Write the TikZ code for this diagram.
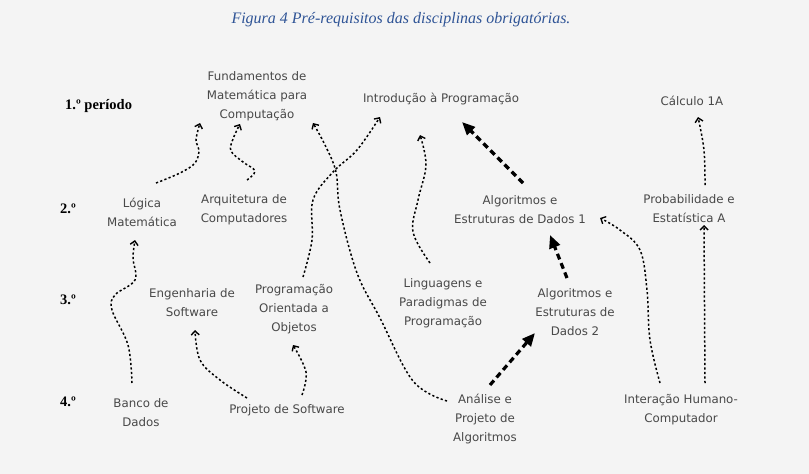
\documentclass[tikz,border=0pt]{standalone}
\usepackage{fontspec}
\setmainfont{DejaVu Sans}
\newfontfamily\serifface{Liberation Serif}
\usetikzlibrary{arrows.meta}
\definecolor{bg}{HTML}{F4F4F4}
\definecolor{txt}{HTML}{484848}
\definecolor{ttl}{HTML}{2F5496}
\begin{document}
\begin{tikzpicture}[x=1pt,y=-1pt,
  course/.style={align=center, text=txt, font=\fontsize{11.8}{19}\selectfont, inner sep=0pt},
  period/.style={anchor=west, font=\serifface\bfseries\fontsize{14.5}{16}\selectfont, inner sep=0pt},
  dep/.style={line width=1.5pt, dash pattern=on 2.2pt off 2.3pt, -{Straight Barb[length=4pt,width=8pt,line width=1.4pt]}},
  strong/.style={line width=3.2pt, dash pattern=on 6pt off 4pt, -{Triangle[length=13pt,width=11pt]}}
]
\fill[bg] (0,0) rectangle (809,474);
\useasboundingbox (0,0) rectangle (809,474);

\node[font=\serifface\itshape\fontsize{16}{18}\selectfont, text=ttl, inner sep=0pt] (title) at (401,20) {Figura 4 Pré-requisitos das disciplinas obrigatórias.};

\node[period] (p1) at (65,106) {1.º período};
\node[period] (p2) at (60,209) {2.º};
\node[period] (p3) at (60,300) {3.º};
\node[period] (p4) at (60,402) {4.º};

\node[course] (fmc) at (257,96) {Fundamentos de\\Matemática para\\Computação};
\node[course] (ip) at (441,99) {Introdução à Programação};
\node[course] (c1a) at (692,101) {Cálculo 1A};
\node[course] (lm) at (142,212.5) {Lógica\\Matemática};
\node[course] (ac) at (244,209.5) {Arquitetura de\\Computadores};
\node[course] (aed1) at (520,210) {Algoritmos e\\Estruturas de Dados 1};
\node[course] (pe) at (689,208.5) {Probabilidade e\\Estatística A};
\node[course] (es) at (192,302.5) {Engenharia de\\Software};
\node[course] (poo) at (294,309) {Programação\\Orientada a\\Objetos};
\node[course] (lpp) at (443,303.5) {Linguagens e\\Paradigmas de\\Programação};
\node[course] (aed2) at (575,312) {Algoritmos e\\Estruturas de\\Dados 2};
\node[course] (bd) at (141,412.5) {Banco de\\Dados};
\node[course] (ps) at (287,410) {Projeto de Software};
\node[course] (apa) at (485,419) {Análise e\\Projeto de\\Algoritmos};
\node[course] (ihc) at (681,409.5) {Interação Humano-\\Computador};

% Lógica -> Fundamentos
\draw[dep] plot[smooth, tension=0.6] coordinates {([shift={(14,-29.5)}]lm.center) (180,173) (195,163) (199,150) (196,140) ([shift={(-57,27)}]fmc.center)};
% Arquitetura -> Fundamentos
\draw[dep] plot[smooth, tension=0.6] coordinates {([shift={(3,-29.5)}]ac.center) (255,171) (243,162) (231,151) (233,139) ([shift={(-17,28)}]fmc.center)};
% Análise -> Fundamentos
\draw[dep] plot[smooth, tension=0.6] coordinates {([shift={(-38,-18)}]apa.center) (413,381) (380,318) (357,273) (340,210) (336,172) (325,145) ([shift={(56,27)}]fmc.center)};
% POO -> Introdução
\draw[dep] plot[smooth, tension=0.6] coordinates {([shift={(9,-32)}]poo.center) (312,240) (313,200) (333,172) (357,150) ([shift={(-61,18)}]ip.center)};
% Linguagens -> Introdução
\draw[dep] plot[smooth, tension=0.6] coordinates {([shift={(-13,-40.5)}]lpp.center) (413,232) (418,200) (426,165) ([shift={(-21,36)}]ip.center)};
% AED1 -> Introdução
\draw[strong] ([shift={(3,-27)}]aed1.center) -- ([shift={(21,23)}]ip.center);
% Probabilidade -> Cálculo
\draw[dep] plot[smooth, tension=0.6] coordinates {([shift={(16,-23.5)}]pe.center) (704,150) ([shift={(6,16)}]c1a.center)};
% IHC -> Probabilidade
\draw[dep] ([shift={(24,-26.5)}]ihc.center) -- ([shift={(15,16.5)}]pe.center);
% IHC -> AED1
\draw[dep] plot[smooth, tension=0.6] coordinates {([shift={(-21,-26.5)}]ihc.center) (650,340) (647,290) (640,250) (620,230) ([shift={(80,8)}]aed1.center)};
% AED2 -> AED1
\draw[strong] ([shift={(-8,-34)}]aed2.center) -- ([shift={(30,25)}]aed1.center);
% Análise -> AED2
\draw[strong] ([shift={(5,-34)}]apa.center) -- ([shift={(-40,21)}]aed2.center);
% Banco -> Lógica
\draw[dep] plot[smooth, tension=0.6] coordinates {([shift={(-9,-29.5)}]bd.center) (128,345) (112,310) (115,295) (135,280) (133,258) ([shift={(-7,27.5)}]lm.center)};
% Projeto SW -> Engenharia
\draw[dep] plot[smooth, tension=0.6] coordinates {([shift={(-40,-12)}]ps.center) (220,380) (200,360) ([shift={(3,27.5)}]es.center)};
% Projeto SW -> POO
\draw[dep] plot[smooth, tension=0.6] coordinates {([shift={(15,-15)}]ps.center) (306,372) ([shift={(-1,36)}]poo.center)};
\end{tikzpicture}
\end{document}
